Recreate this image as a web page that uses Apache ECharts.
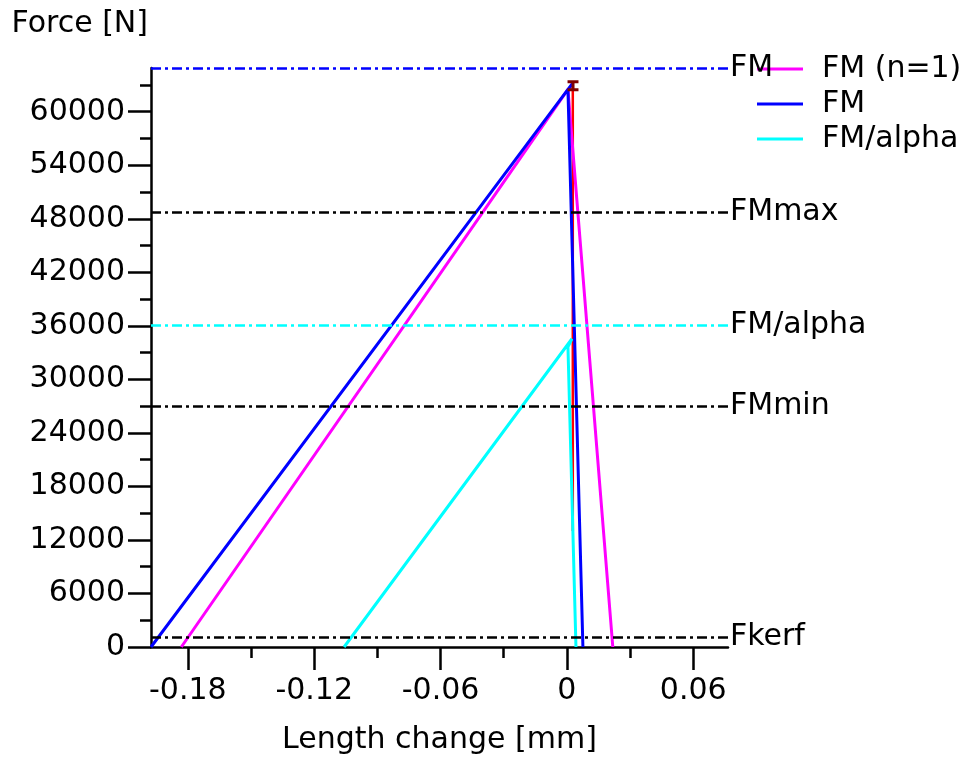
<!DOCTYPE html>
<html>
<head>
<meta charset="utf-8">
<script src="https://cdn.jsdelivr.net/npm/echarts@6/dist/echarts.min.js"></script>
<style>
  html, body { margin: 0; background: #fff; }
  #chart { width: 967px; height: 757px; }
</style>
</head>
<body>
<div id="chart"></div>
<script>
// length change [mm] vs force [N]
const fmN1X = [-0.1831, 0.0005, 0.0218];
const fmN1Y = [0, 62500, 0];
const fmX = [-0.1975, 0.0029, 0.0005, 0.0076];
const fmY = [0, 63250, 62450, 0];
const fmAlphaX = [-0.1058, 0.0024, 0.0005, 0.0043];
const fmAlphaY = [0, 34550, 33650, 0];
const redX = [0.0028, 0.0028];
const redY = [63000, 13000];
const tolX = 0.0029;
const tolHalfWidth = 0.0026;
const tolHigh = 63350;
const tolLow = 62450;

// horizontal reference levels
const refNames = ['FM', 'FMmax', 'FM/alpha', 'FMmin', 'Fkerf'];
const refValues = [64900, 48700, 36100, 27000, 1100];
const refColors = ['#0000ff', '#000000', '#00ffff', '#000000', '#000000'];

// axes
const xMin = -0.1975, xMax = 0.0765;
const yMin = 0, yMax = 64900;
const xTicks = [-0.18, -0.12, -0.06, 0, 0.06];
const xMinorTicks = [-0.15, -0.09, -0.03, 0.03];
const yTicks = [0, 6000, 12000, 18000, 24000, 30000, 36000, 42000, 48000, 54000, 60000];
const yMinorTicks = [3000, 9000, 15000, 21000, 27000, 33000, 39000, 45000, 51000, 57000, 63000];

const FONT = 'DejaVu Sans';
const FS = 30;

function zip(xs, ys) {
  return xs.map((x, i) => [x, ys[i]]);
}

const tolData = [
  [tolX - tolHalfWidth, tolHigh], [tolX + tolHalfWidth, tolHigh], ['-', '-'],
  [tolX, tolHigh], [tolX, tolLow], ['-', '-'],
  [tolX - tolHalfWidth, tolLow], [tolX + tolHalfWidth, tolLow]
];

const chart = echarts.init(document.getElementById('chart'));

const tickStyle = { color: '#000', width: 2.5 };
const xBase = {
  type: 'value', min: xMin, max: xMax, position: 'bottom',
  splitLine: { show: false }
};
const yBase = {
  type: 'value', min: yMin, max: yMax, position: 'left',
  splitLine: { show: false }
};

chart.setOption({
  animation: false,
  backgroundColor: '#fff',
  grid: { left: 151, right: 239, top: 68, bottom: 110, containLabel: false, outerBoundsMode: 'none' },
  legend: {
    data: ['FM (n=1)', 'FM', 'FM/alpha'],
    orient: 'vertical',
    left: 752,
    top: 49,
    icon: 'rect',
    itemWidth: 46,
    itemHeight: 3,
    itemGap: 5,
    textStyle: { fontFamily: FONT, fontSize: FS, color: '#000', lineHeight: 30, padding: [0, 0, 0, 14] }
  },
  xAxis: [
    Object.assign({}, xBase, {
      name: 'Length change [mm]',
      nameLocation: 'middle',
      nameGap: 78,
      nameTextStyle: { fontFamily: FONT, fontSize: FS, color: '#000' },
      axisLine: { onZero: false, lineStyle: { color: '#000', width: 2.5 } },
      axisTick: { customValues: xTicks, length: 23, lineStyle: tickStyle },
      axisLabel: {
        customValues: xTicks, margin: 29,
        fontFamily: FONT, fontSize: FS, color: '#000',
        formatter: v => (v === 0 ? '0' : String(v))
      }
    }),
    Object.assign({}, xBase, {
      axisLine: { show: false, onZero: false },
      axisTick: { customValues: xMinorTicks, length: 11, lineStyle: tickStyle },
      axisLabel: { show: false }
    })
  ],
  yAxis: [
    Object.assign({}, yBase, {
      name: 'Force [N]',
      nameLocation: 'end',
      nameGap: 44,
      nameTextStyle: { fontFamily: FONT, fontSize: FS, color: '#000', align: 'right', verticalAlign: 'middle', padding: [0, 3, 0, 0] },
      axisLine: { onZero: false, lineStyle: { color: '#000', width: 2.5 } },
      axisTick: { customValues: yTicks, length: 23, lineStyle: tickStyle },
      axisLabel: {
        customValues: yTicks, margin: 26,
        fontFamily: FONT, fontSize: FS, color: '#000',
        formatter: v => String(v)
      }
    }),
    Object.assign({}, yBase, {
      axisLine: { show: false, onZero: false },
      axisTick: { customValues: yMinorTicks, length: 11, lineStyle: tickStyle },
      axisLabel: { show: false }
    })
  ],
  series: [
    {
      name: 'scatter band',
      type: 'line',
      data: zip(redX, redY),
      symbol: 'none',
      lineStyle: { color: '#ff0000', width: 2.5 },
      markLine: {
        silent: true,
        symbol: 'none',
        data: refValues.map((v, i) => ({
          yAxis: v,
          name: refNames[i],
          lineStyle: { color: refColors[i], type: [10, 4, 3, 4], width: 2.5 },
          label: {
            position: 'end', distance: 2, formatter: refNames[i],
            fontFamily: FONT, fontSize: FS, color: '#000'
          }
        }))
      }
    },
    {
      name: 'FM/alpha',
      type: 'line',
      data: zip(fmAlphaX, fmAlphaY),
      symbol: 'none',
      color: '#00ffff',
      lineStyle: { color: '#00ffff', width: 3 }
    },
    {
      name: 'FM (n=1)',
      type: 'line',
      data: zip(fmN1X, fmN1Y),
      symbol: 'none',
      color: '#ff00ff',
      lineStyle: { color: '#ff00ff', width: 3 }
    },
    {
      name: 'FM',
      type: 'line',
      data: zip(fmX, fmY),
      symbol: 'none',
      color: '#0000ff',
      lineStyle: { color: '#0000ff', width: 3 }
    },
    {
      name: 'tolerance',
      type: 'line',
      data: tolData,
      symbol: 'none',
      connectNulls: false,
      lineStyle: { color: '#800000', width: 3 }
    }
  ]
});
</script>
</body>
</html>
